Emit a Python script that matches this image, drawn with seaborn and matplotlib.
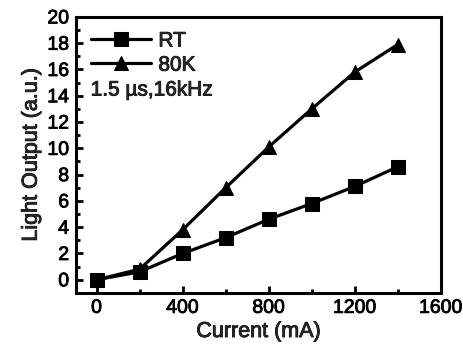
import matplotlib
matplotlib.use("Agg")
import matplotlib.pyplot as plt
import matplotlib.patheffects as pe
import pandas as pd
import seaborn as sns
from matplotlib.ticker import MultipleLocator

# Values
current = [0, 200, 400, 600, 800, 1000, 1200, 1400]
rt = [0.0, 0.6, 2.0, 3.2, 4.6, 5.8, 7.1, 8.6]
k80 = [0.0, 0.8, 3.8, 7.0, 10.1, 13.0, 15.8, 17.9]
series_names = ["RT", "80K"]

df = pd.DataFrame({
    "Current": current * 2,
    "Light": rt + k80,
    "series": [series_names[0]] * len(current) + [series_names[1]] * len(current),
})

sns.set_style("ticks")
plt.rcParams["font.family"] = ["Liberation Sans", "DejaVu Sans"]

fig = plt.figure(figsize=(4.64, 3.45), dpi=100)
ax = fig.add_axes([0.164, 0.151, 0.786, 0.800])

sns.lineplot(data=df, x="Current", y="Light", hue="series", style="series",
             markers=["s", "^"], dashes=False, palette=["black", "black"],
             linewidth=2.3, markersize=9.5, markeredgecolor="black", ax=ax)

ax.set_xlim(-95, 1600)
ax.set_ylim(-1, 20)
ax.xaxis.set_major_locator(MultipleLocator(400))
ax.xaxis.set_minor_locator(MultipleLocator(200))
ax.yaxis.set_major_locator(MultipleLocator(2))
ax.yaxis.set_minor_locator(MultipleLocator(1))
ax.tick_params(which="both", direction="in", top=False, right=False,
               width=2, labelsize=14, colors="black")
ax.tick_params(which="major", length=5, pad=5)
ax.tick_params(which="minor", length=3)
for s in ax.spines.values():
    s.set_linewidth(2.2)
    s.set_color("black")

ax.set_xlabel("Current (mA)", fontsize=15.5, labelpad=3)
ax.set_ylabel("Light Output (a.u.)", fontsize=15.5, labelpad=4)

leg = ax.legend(loc="upper left", frameon=False, handlelength=2.9,
                borderaxespad=0.3, handletextpad=0.35, labelspacing=0.25,
                prop={"size": 15})
ax.text(0.04, 0.735, "1.5 µs,16kHz", transform=ax.transAxes, fontsize=15,
        va="center")

# scanned look: slightly heavier text
thick = [pe.withStroke(linewidth=0.6, foreground="black")]
texts = ax.get_xticklabels() + ax.get_yticklabels() + leg.get_texts() + ax.texts
texts += [ax.xaxis.label, ax.yaxis.label]
for t in texts:
    t.set_path_effects(thick)

fig.savefig("out.png", dpi=100)
